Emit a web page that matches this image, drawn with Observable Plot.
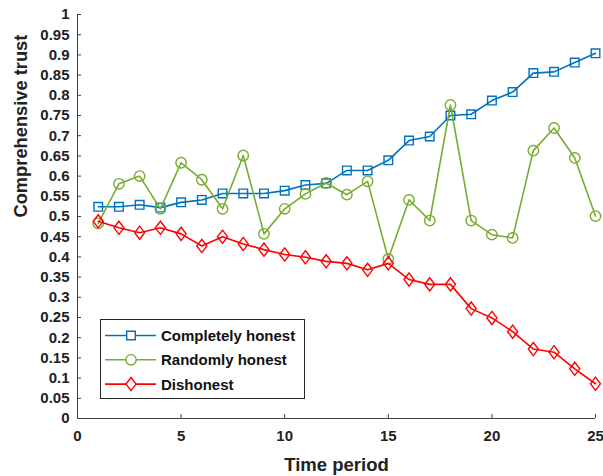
<!DOCTYPE html>
<html><head><meta charset="utf-8">
<script src="https://cdn.jsdelivr.net/npm/d3@7"></script>
<script src="https://cdn.jsdelivr.net/npm/@observablehq/plot@0.6"></script>
<style>
body{margin:0;background:#fff;}
#wrap{position:relative;width:603px;height:476px;}
#legend{position:absolute;left:100px;top:319px;}
</style></head><body><div id="wrap"></div>
<script>
const periods = [1,2,3,4,5,6,7,8,9,10,11,12,13,14,15,16,17,18,19,20,21,22,23,24,25];
const completelyHonest = [0.524,0.524,0.529,0.522,0.535,0.541,0.557,0.557,0.557,0.564,0.578,0.582,0.614,0.614,0.639,0.688,0.698,0.750,0.753,0.787,0.808,0.855,0.858,0.881,0.904];
const randomlyHonest = [0.483,0.581,0.600,0.519,0.633,0.591,0.519,0.651,0.457,0.519,0.556,0.583,0.554,0.587,0.395,0.541,0.490,0.776,0.490,0.455,0.447,0.663,0.719,0.645,0.501];
const dishonest = [0.488,0.472,0.460,0.472,0.457,0.427,0.450,0.432,0.418,0.406,0.399,0.389,0.384,0.368,0.384,0.344,0.332,0.332,0.272,0.249,0.215,0.172,0.164,0.123,0.086];
const seriesNames = ["Completely honest","Randomly honest","Dishonest"];
const seriesColors = ["#0072BD","#77AC30","#FF0000"];
const xTicks = [0,5,10,15,20,25];
const yTicks = [0,0.05,0.1,0.15,0.2,0.25,0.3,0.35,0.4,0.45,0.5,0.55,0.6,0.65,0.7,0.75,0.8,0.85,0.9,0.95,1];
const xLabel = "Time period";
const yLabel = "Comprehensive trust";

const seriesValues = [completelyHonest, randomlyHonest, dishonest];
const data = seriesNames.flatMap((name, s) => periods.map((t, i) => ({series: name, t, v: seriesValues[s][i]})));

const symSquare = {draw(c){ c.moveTo(-4.3,-4.3); c.lineTo(4.3,-4.3); c.lineTo(4.3,4.3); c.lineTo(-4.3,4.3); c.closePath(); }};
const symCircle = {draw(c){ c.moveTo(5.2,0); c.arc(0,0,5.2,0,2*Math.PI); }};
const symDiamond = {draw(c){ c.moveTo(0,-6.6); c.lineTo(5,0); c.lineTo(0,6.6); c.lineTo(-5,0); c.closePath(); }};
const symbols = [symSquare, symCircle, symDiamond];

const font = '"Liberation Sans", Arial, sans-serif';
const axisColor = "#404040";

const marks = [
  Plot.ruleX([0], {stroke: axisColor, strokeWidth: 1}),
  Plot.ruleY([0], {stroke: axisColor, strokeWidth: 1}),
  Plot.axisX(xTicks, {tickSize: 4, dy: -4, text: null, label: null, stroke: axisColor}),
  Plot.axisY(yTicks, {tickSize: 4, dx: 4, text: null, label: null, stroke: axisColor}),
  Plot.axisX(xTicks, {tickSize: 0, tickPadding: 12, fontSize: 15, fontWeight: "bold", fill: "#222", label: null}),
  Plot.axisY(yTicks, {tickSize: 0, tickPadding: 8, fontSize: 15, fontWeight: "bold", fill: "#222", label: null,
    tickFormat: d => String(+d.toFixed(2))}),
  Plot.text([xLabel], {text: d => d, frameAnchor: "bottom", lineAnchor: "top", dy: 39,
    fontSize: 18.5, fontWeight: "bold", fill: "#222"}),
  Plot.text([yLabel], {text: d => d, frameAnchor: "left", lineAnchor: "top", rotate: -90, dx: -63.5, dy: 1,
    fontSize: 18.3, fontWeight: "bold", fill: "#222"}),
];
seriesNames.forEach((name, s) => {
  const rows = data.filter(d => d.series === name);
  marks.push(Plot.line(rows, {x: "t", y: "v", stroke: seriesColors[s], strokeWidth: 1.6}));
  marks.push(Plot.dot(rows, {x: "t", y: "v", stroke: seriesColors[s], fill: "none", strokeWidth: 1.4, symbol: () => symbols[s]}));
});

const chart = Plot.plot({
  width: 603, height: 476,
  marginLeft: 77, marginRight: 8, marginTop: 14, marginBottom: 58,
  style: {fontFamily: font, background: "#fff", overflow: "visible"},
  x: {domain: [0, 25]},
  y: {domain: [0, 1]},
  marks
});
document.getElementById("wrap").appendChild(chart);

// legend
const ns = "http://www.w3.org/2000/svg";
const lw = 205, lh = 80;
const leg = d3.create("svg").attr("id", "legend").attr("width", lw).attr("height", lh).attr("xmlns", ns);
leg.append("rect").attr("x", 0.5).attr("y", 0.5).attr("width", lw - 1).attr("height", lh - 1).attr("fill", "#fff").attr("stroke", "#262626");
const symPath = s => { const p = d3.path(); symbols[s].draw(p); return p.toString(); };
seriesNames.forEach((name, s) => {
  const cy = 16.5 + s * 24.3;
  const g = leg.append("g");
  g.append("line").attr("x1", 5).attr("x2", 56).attr("y1", cy).attr("y2", cy).attr("stroke", seriesColors[s]).attr("stroke-width", 1.6);
  g.append("path").attr("d", symPath(s)).attr("transform", `translate(31,${cy})`).attr("fill", "#fff").attr("stroke", seriesColors[s]).attr("stroke-width", 1.4);
  g.append("text").attr("x", 61).attr("y", cy).attr("dy", "0.36em").attr("font-family", font).attr("font-weight", "bold").attr("font-size", 15).attr("fill", "#111").text(name);
});
document.getElementById("wrap").appendChild(leg.node());
</script>
</body></html>
